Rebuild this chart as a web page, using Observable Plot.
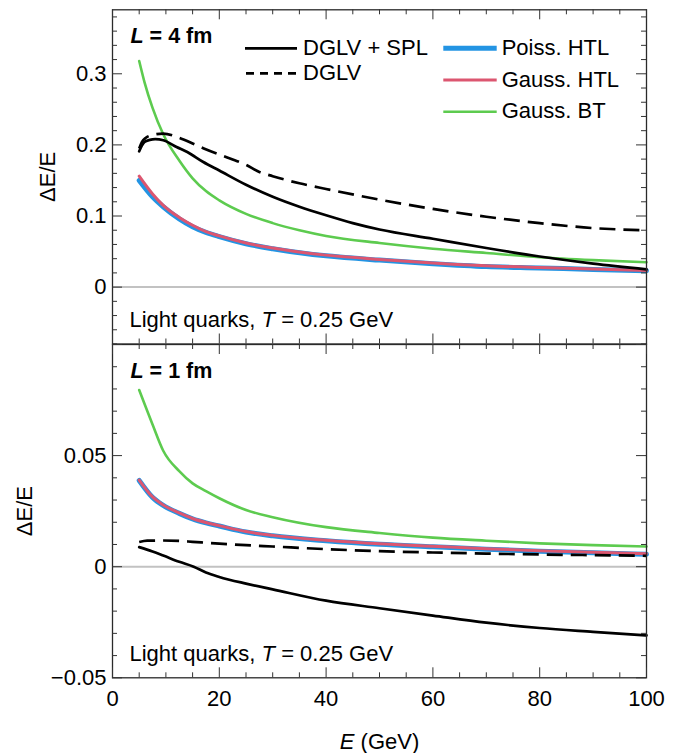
<!DOCTYPE html>
<html><head><meta charset="utf-8">
<script src="https://cdn.jsdelivr.net/npm/d3@7"></script>
<script src="https://cdn.jsdelivr.net/npm/@observablehq/plot@0.6"></script>
<style>
body{margin:0;background:#fff}
#chart{position:relative;width:679px;height:753px;background:#fff}
#chart svg{display:block}
</style>
</head><body><div id="chart"></div>
<script>
// ---------- tick values ----------
const xMajor = [0, 20, 40, 60, 80, 100];
const xMinor = [5, 10, 15, 25, 30, 35, 45, 50, 55, 65, 70, 75, 85, 90, 95];
const xLabels = ["0", "20", "40", "60", "80", "100"];
const yMajorTop = [0, 0.1, 0.2, 0.3];
const yMinorTop = [-0.08, -0.06, -0.04, -0.02, 0.02, 0.04, 0.06, 0.08, 0.12, 0.14, 0.16, 0.18, 0.22, 0.24, 0.26, 0.28, 0.32, 0.34, 0.36, 0.38];
const yLabelsTop = ["0", "0.1", "0.2", "0.3"];
const yMajorBot = [-0.05, 0, 0.05, 0.1];
const yMinorBot = [-0.04, -0.03, -0.02, -0.01, 0.01, 0.02, 0.03, 0.04, 0.06, 0.07, 0.08, 0.09];
const yLabelTicksBot = [-0.05, 0, 0.05];
const yLabelsBot = ["\u22120.05", "0", "0.05"];

// ---------- series names ----------
const seriesNames = ["DGLV + SPL", "DGLV", "Poiss. HTL", "Gauss. HTL", "Gauss. BT"];

// ---------- top panel: L = 4 fm ----------
const E_splTop = [5, 5.5, 6, 7, 8, 9.5, 12, 14, 17, 20, 25, 30, 35, 40, 45, 50, 60, 70, 80, 90, 100];
const splTop = [0.191, 0.199, 0.204, 0.207, 0.208, 0.2066, 0.197, 0.190, 0.176, 0.164, 0.144, 0.127, 0.113, 0.101, 0.090, 0.081, 0.068, 0.055, 0.043, 0.033, 0.025];
const E_dglvTop = [5, 5.5, 6.25, 7.5, 9.5, 12.5, 15, 17.1, 22, 25, 27.5, 30, 35, 40, 50, 60, 70, 80, 90, 100];
const dglvTop = [0.195, 0.204, 0.210, 0.214, 0.216, 0.210, 0.202, 0.195, 0.181, 0.172, 0.162, 0.156, 0.146, 0.138, 0.123, 0.110, 0.099, 0.090, 0.083, 0.080];
const E_htlTop = [5, 7.5, 9.5, 12.5, 15, 17.5, 20, 25, 30, 37.5, 40, 50, 60, 70, 80, 90, 100];
const poissTop = [0.150, 0.127, 0.113, 0.096, 0.085, 0.077, 0.071, 0.061, 0.054, 0.046, 0.044, 0.038, 0.033, 0.029, 0.027, 0.0248, 0.023];
const gaussHtlTop = [0.156, 0.131, 0.115, 0.098, 0.087, 0.078, 0.072, 0.062, 0.055, 0.047, 0.045, 0.039, 0.034, 0.030, 0.0275, 0.0255, 0.0235];
const E_btTop = [5, 6, 7.5, 9.5, 12.5, 15, 17.5, 20, 25, 30, 35, 40, 50, 60, 70, 80, 90, 100];
const gaussBtTop = [0.318, 0.288, 0.252, 0.215, 0.178, 0.153, 0.135, 0.122, 0.103, 0.090, 0.080, 0.072, 0.062, 0.054, 0.048, 0.042, 0.038, 0.035];

// ---------- bottom panel: L = 1 fm ----------
const E_splBot = [5, 7.5, 9.5, 12.5, 15.2, 17.5, 20, 25, 30, 40, 50, 60, 70, 80, 90, 100];
const splBot = [0.0088, 0.0068, 0.0050, 0.0022, 0, -0.0026, -0.0046, -0.0076, -0.0102, -0.0153, -0.0187, -0.0220, -0.0252, -0.0276, -0.0293, -0.0309];
const E_dglvBot = [5, 6.5, 9.5, 12.5, 15, 20, 25, 30, 40, 50, 60, 70, 80, 90, 100];
const dglvBot = [0.0111, 0.0117, 0.0118, 0.0116, 0.0112, 0.0104, 0.0097, 0.0091, 0.0079, 0.0070, 0.0064, 0.0059, 0.0055, 0.0052, 0.0049];
const E_otherBot = [5, 7.5, 9.5, 12.5, 15, 17.5, 20, 25, 30, 40, 50, 60, 70, 80, 90, 100];
const poissBot = [0.0388, 0.0312, 0.0276, 0.0240, 0.0215, 0.0197, 0.0183, 0.0156, 0.0139, 0.0117, 0.0101, 0.0090, 0.0079, 0.0070, 0.0063, 0.0056];
const gaussHtlBot = [0.0390, 0.0314, 0.0278, 0.0242, 0.0217, 0.0199, 0.0185, 0.0158, 0.0141, 0.0119, 0.0103, 0.0092, 0.0081, 0.0072, 0.0065, 0.0058];
const gaussBtBot = [0.0795, 0.0640, 0.0522, 0.0430, 0.0375, 0.0340, 0.0308, 0.0255, 0.0223, 0.0178, 0.0152, 0.0131, 0.0117, 0.0105, 0.0097, 0.0091];

// ---------- styling ----------
const FONT = "'Liberation Sans', Arial, Helvetica, sans-serif";
const BLUE = "#2394e3", RED = "#dc5670", GREEN = "#5dcb4f";
const FRAME = "#2a2a2a", TICK = "#333";
const styles = {
  "DGLV + SPL": {stroke: "#000", strokeWidth: 2.7},
  "DGLV": {stroke: "#000", strokeWidth: 2.7, strokeDasharray: "16,8", strokeLinecap: "butt"},
  "Poiss. HTL": {stroke: BLUE, strokeWidth: 5},
  "Gauss. HTL": {stroke: RED, strokeWidth: 3},
  "Gauss. BT": {stroke: GREEN, strokeWidth: 2.6}
};

const rows = (E, V) => E.map((e, i) => ({E: e, v: V[i]}));

function panel({height, marginTop, marginBottom, yDomain, series, yMajor, yMinor, yLabelTicks, yLabels, Ltext, ylabelDx, bottomAxis}) {
  const W = 679, mL = 112, mR = 33;
  const FW = W - mL - mR;
  const FH = height - marginTop - marginBottom;
  const fmtY = d => yLabels[yLabelTicks.indexOf(d)];
  const order = ["Poiss. HTL", "Gauss. HTL", "Gauss. BT", "DGLV", "DGLV + SPL"];
  const marks = [
    Plot.ruleY([0], {stroke: "#c2c2c2", strokeWidth: 2}),
    ...order.map(name => Plot.line(series[name], {x: "E", y: "v", curve: "monotone-x", strokeLinejoin: "round", ...styles[name]})),
    Plot.frame({stroke: FRAME, strokeWidth: 1.3}),
    // left & right y ticks (inward)
    Plot.ruleY(yMajor, {stroke: TICK, strokeWidth: 1, insetRight: FW - 10}),
    Plot.ruleY(yMinor, {stroke: TICK, strokeWidth: 1, insetRight: FW - 5}),
    Plot.ruleY(yMajor, {stroke: TICK, strokeWidth: 1, insetLeft: FW - 10}),
    Plot.ruleY(yMinor, {stroke: TICK, strokeWidth: 1, insetLeft: FW - 5}),
    // top & bottom x ticks (inward)
    Plot.ruleX(xMajor, {stroke: TICK, strokeWidth: 1, insetBottom: FH - 10}),
    Plot.ruleX(xMinor, {stroke: TICK, strokeWidth: 1, insetBottom: FH - 5}),
    Plot.ruleX(xMajor, {stroke: TICK, strokeWidth: 1, insetTop: FH - 10}),
    Plot.ruleX(xMinor, {stroke: TICK, strokeWidth: 1, insetTop: FH - 5}),
    Plot.axisY(yLabelTicks, {anchor: "left", tickSize: 0, tickPadding: 6, tickFormat: fmtY, fontSize: 22, fill: "#000", label: null}),
    Plot.text(["\u0394E/E"], {frameAnchor: "left", dx: ylabelDx, rotate: -90, textAnchor: "middle", lineAnchor: "middle", fontSize: 22, fill: "#000"}),
    Plot.text([Ltext], {frameAnchor: "top-left", dx: 18, dy: 33, lineAnchor: "bottom", textAnchor: "start", fontWeight: "bold", fontSize: 21.5, fill: "#000"}),
    Plot.text(["Light quarks, T = 0.25 GeV"], {frameAnchor: "bottom-left", dx: 17, dy: -17, lineAnchor: "bottom", textAnchor: "start", fontSize: 22, fill: "#000"})
  ];
  if (bottomAxis) {
    marks.push(Plot.axisX(xMajor, {anchor: "bottom", tickSize: 0, tickPadding: 13, tickFormat: d => xLabels[xMajor.indexOf(d)], fontSize: 22, fill: "#000", label: null}));
    marks.push(Plot.text(["E (GeV)"], {frameAnchor: "bottom", dy: 71, lineAnchor: "bottom", textAnchor: "middle", fontSize: 22, fill: "#000"}));
  }
  const svg = Plot.plot({
    width: W, height, marginLeft: mL, marginRight: mR, marginTop, marginBottom,
    x: {domain: [0, 100], axis: null},
    y: {domain: yDomain, axis: null},
    style: {fontFamily: FONT, fontSize: "22px", overflow: "visible", background: "transparent", color: "#000"},
    marks
  });
  for (const t of svg.querySelectorAll("text")) {
    const s = t.textContent;
    if (s === "Light quarks, T = 0.25 GeV") t.innerHTML = 'Light quarks, <tspan font-style="italic">T</tspan> = 0.25 GeV';
    else if (s === Ltext) t.innerHTML = '<tspan font-style="italic">L</tspan>' + Ltext.slice(1);
    else if (s === "E (GeV)") t.innerHTML = '<tspan font-style="italic">E</tspan> (GeV)';
  }
  return svg;
}

const topSeries = {
  "DGLV + SPL": rows(E_splTop, splTop),
  "DGLV": rows(E_dglvTop, dglvTop),
  "Poiss. HTL": rows(E_htlTop, poissTop),
  "Gauss. HTL": rows(E_htlTop, gaussHtlTop),
  "Gauss. BT": rows(E_btTop, gaussBtTop)
};
const botSeries = {
  "DGLV + SPL": rows(E_splBot, splBot),
  "DGLV": rows(E_dglvBot, dglvBot),
  "Poiss. HTL": rows(E_otherBot, poissBot),
  "Gauss. HTL": rows(E_otherBot, gaussHtlBot),
  "Gauss. BT": rows(E_otherBot, gaussBtBot)
};

const topSvg = panel({height: 344, marginTop: 9.3, marginBottom: 0.5, yDomain: [-0.08, 0.39], series: topSeries,
  yMajor: yMajorTop, yMinor: yMinorTop, yLabelTicks: yMajorTop, yLabels: yLabelsTop, Ltext: "L = 4 fm", ylabelDx: -65, bottomAxis: false});
const botSvg = panel({height: 409, marginTop: 0, marginBottom: 75.7, yDomain: [-0.05, 0.1], series: botSeries,
  yMajor: yMajorBot, yMinor: yMinorBot, yLabelTicks: yLabelTicksBot, yLabels: yLabelsBot, Ltext: "L = 1 fm", ylabelDx: -88, bottomAxis: true});

// ---------- legend (inside top panel) ----------
const lg = d3.select(topSvg).append("g")
  .attr("font-family", FONT).attr("font-size", 22).attr("fill", "#000").attr("text-anchor", "start");
const legendItems = [
  {name: seriesNames[0], x1: 245, x2: 297, y: 48.3, tx: 303, ty: 54.5},
  {name: seriesNames[1], x1: 246, x2: 296, y: 73.3, tx: 303, ty: 79.5, dash: "8,6"},
  {name: seriesNames[2], x1: 443.3, x2: 496.7, y: 48.3, tx: 501.7, ty: 54.5},
  {name: seriesNames[3], x1: 443.3, x2: 496.7, y: 80, tx: 501.7, ty: 86.5},
  {name: seriesNames[4], x1: 443.3, x2: 496.7, y: 111.7, tx: 501.7, ty: 118.3}
];
for (const it of legendItems) {
  const st = styles[it.name];
  lg.append("line").attr("x1", it.x1).attr("x2", it.x2).attr("y1", it.y).attr("y2", it.y)
    .attr("stroke", st.stroke).attr("stroke-width", st.strokeWidth)
    .attr("stroke-dasharray", it.dash || null);
  lg.append("text").attr("x", it.tx).attr("y", it.ty).attr("text-anchor", "start").text(it.name);
}

const chart = document.getElementById("chart");
chart.appendChild(topSvg);
chart.appendChild(botSvg);
</script></body></html>
